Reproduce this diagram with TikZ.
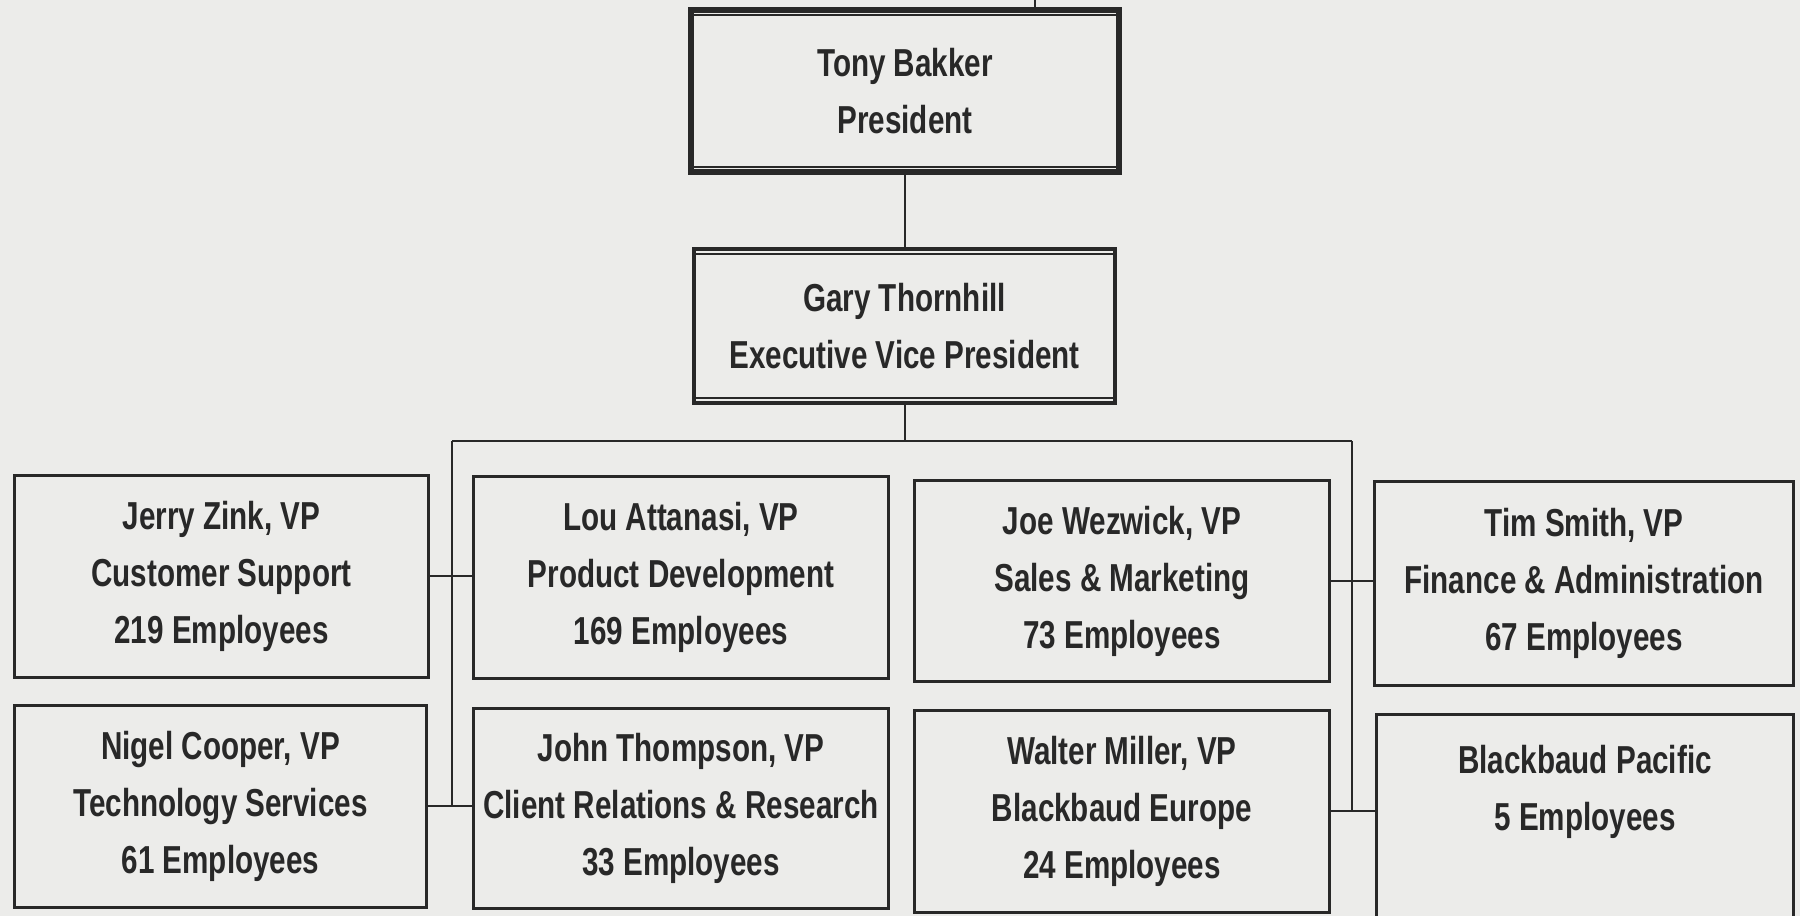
\documentclass[tikz,border=0pt]{standalone}
\usepackage{fontspec}
\setmainfont{Liberation Sans}[FakeStretch=0.76]
\definecolor{paper}{RGB}{236,236,234}
\definecolor{inkc}{RGB}{40,40,40}
\begin{document}
\begin{tikzpicture}[x=1pt,y=-1pt,
  every node/.style={font=\bfseries\fontsize{39}{57}\selectfont, text=inkc, align=center, inner sep=0pt},
  unitbox/.style={draw=inkc, line width=3pt, fill=paper},
  headbox/.style={draw=inkc, line width=#1, fill=paper},
  rule/.style={draw=inkc, line width=1.5pt},
  link/.style={draw=inkc, line width=2pt}]

% sheet
\fill[paper] (0,0) rectangle (1800,916);
\useasboundingbox (0,0) rectangle (1800,916);

% top of the chart
\node[headbox=6pt, minimum width=428pt, minimum height=162pt] (pres) at (905,91) {Tony Bakker\\President};
\node[headbox=4pt, minimum width=421pt, minimum height=154pt] (evp) at (904.5,326) {Gary Thornhill\\Executive Vice President};

% double rules inside the head boxes
\draw[rule] ([shift={(0,8)}]pres.north west) -- ([shift={(0,8)}]pres.north east);
\draw[rule] ([shift={(0,-8)}]pres.south west) -- ([shift={(0,-8)}]pres.south east);
\draw[rule] ([shift={(0,7)}]evp.north west) -- ([shift={(0,7)}]evp.north east);
\draw[rule] ([shift={(0,-7)}]evp.south west) -- ([shift={(0,-7)}]evp.south east);

% vice presidents, two rows of four
\node[unitbox, minimum width=414pt, minimum height=202pt] (jerry) at (221.5,576) {Jerry Zink, VP\\Customer Support\\219 Employees};
\node[unitbox, minimum width=415pt, minimum height=202pt] (lou) at (681,577) {Lou Attanasi, VP\\Product Development\\169 Employees};
\node[unitbox, minimum width=415pt, minimum height=201pt] (joe) at (1122,581) {Joe Wezwick, VP\\Sales \& Marketing\\73 Employees};
\node[unitbox, minimum width=419pt, minimum height=204pt] (tim) at (1584,583) {Tim Smith, VP\\Finance \& Administration\\67 Employees};

\node[unitbox, minimum width=412pt, minimum height=202pt] (nigel) at (220.5,806) {Nigel Cooper, VP\\Technology Services\\61 Employees};
\node[unitbox, minimum width=415pt, minimum height=200pt] (john) at (681,808) {John Thompson, VP\\Client Relations \& Research\\33 Employees};
\node[unitbox, minimum width=415pt, minimum height=202pt] (walter) at (1122,811) {Walter Miller, VP\\Blackbaud Europe\\24 Employees};
\node[unitbox, minimum width=417pt, minimum height=204pt] (pacific) at (1585,816) {Blackbaud Pacific\\5 Employees\\ \mbox{}};

% connectors
\coordinate (up) at (1035,0);
\coordinate (busL) at (452,441);
\coordinate (busR) at (1352,441);
\draw[link] (up) -- (up |- pres.north);
\draw[link] (pres.south) -- (pres.south |- evp.north);
\draw[link] (evp.south) -- (evp.south |- busL);
\draw[link] (busL) -- (busR);
\draw[link] (busL) -- (busL |- nigel.east);
\draw[link] (busR) -- (busR |- walter.east);
\draw[link] (jerry.east) -- (jerry.east -| lou.west);
\draw[link] (nigel.east) -- (nigel.east -| john.west);
\draw[link] (joe.east) -- (joe.east -| tim.west);
\draw[link] (walter.east) -- (walter.east -| pacific.west);
\end{tikzpicture}
\end{document}
